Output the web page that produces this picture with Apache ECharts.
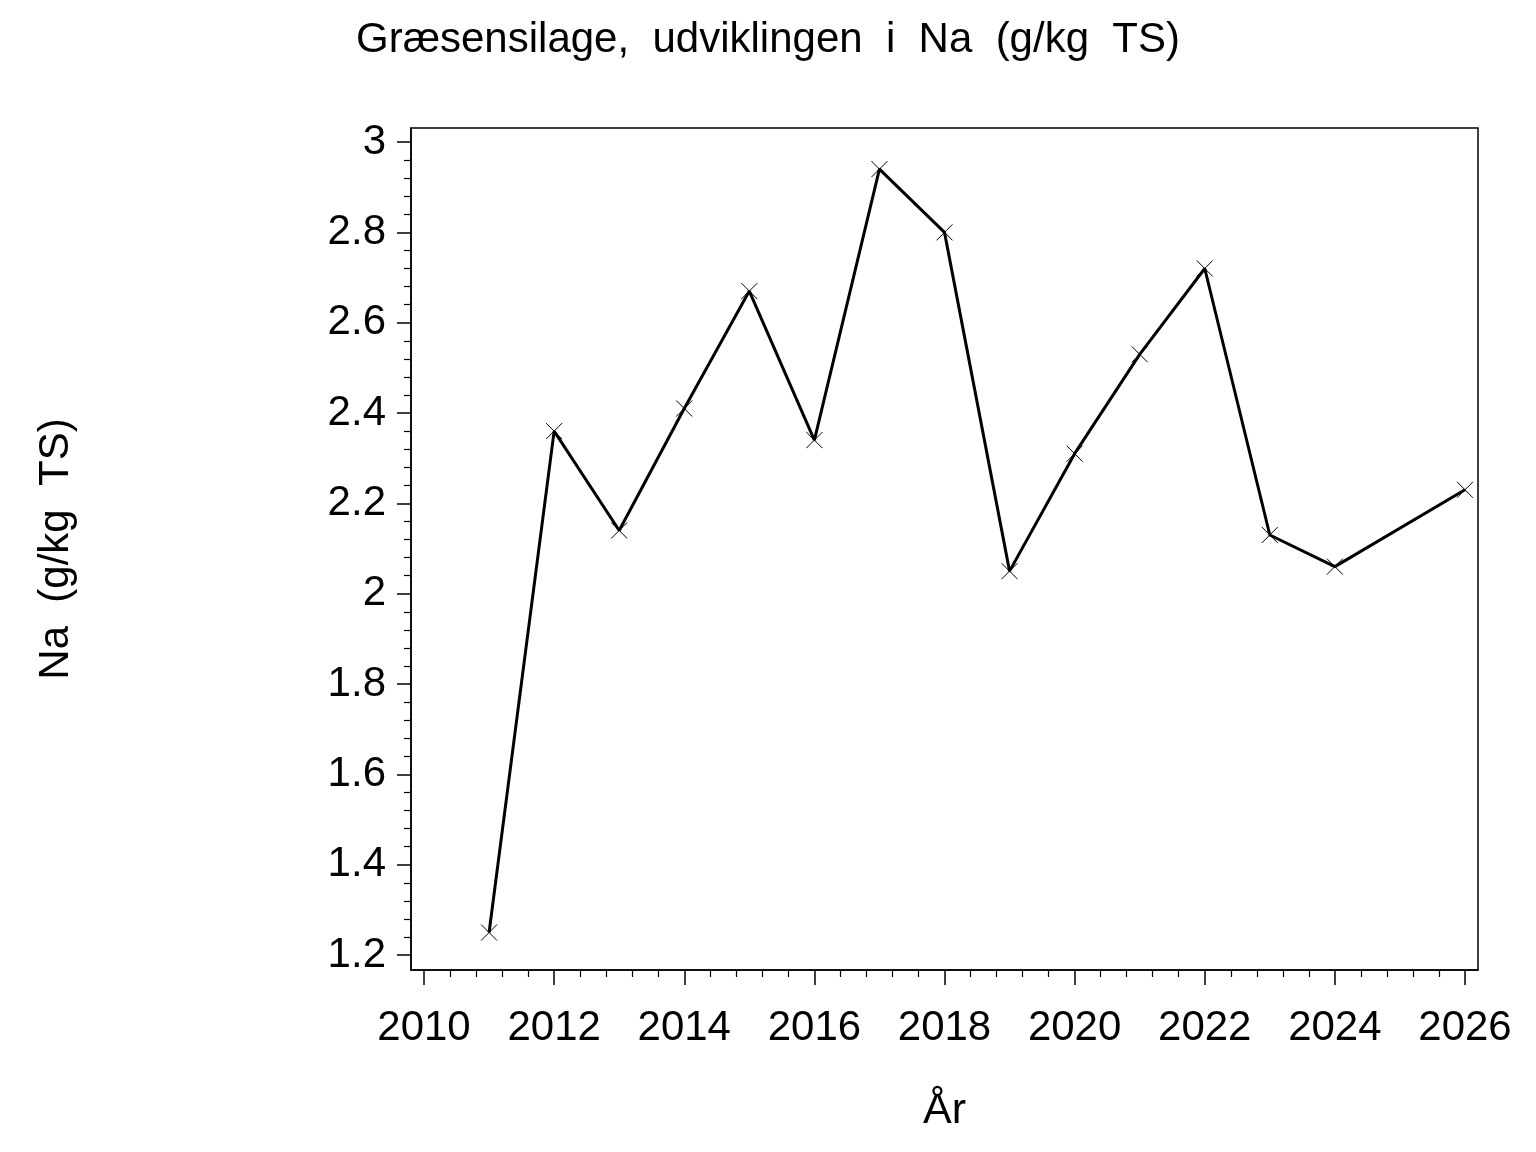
<!DOCTYPE html>
<html>
<head>
<meta charset="utf-8">
<script src="https://cdn.jsdelivr.net/npm/echarts@6/dist/echarts.min.js"></script>
<style>
  html, body { margin: 0; padding: 0; background: #fff; }
  #chart { width: 1536px; height: 1152px; }
</style>
</head>
<body>
<div id="chart"></div>
<script>
// ---- data ----
const years = [2011, 2012, 2013, 2014, 2015, 2016, 2017, 2018, 2019, 2020, 2021, 2022, 2023, 2024, 2026];
const naValues = [1.25, 2.36, 2.14, 2.41, 2.67, 2.34, 2.94, 2.80, 2.05, 2.31, 2.53, 2.72, 2.13, 2.06, 2.23];
const xTickLabels = [2010, 2012, 2014, 2016, 2018, 2020, 2022, 2024, 2026];
const yTickLabels = [1.2, 1.4, 1.6, 1.8, 2, 2.2, 2.4, 2.6, 2.8, 3];

const titleText = 'Græsensilage,  udviklingen  i  Na  (g/kg  TS)';
const xName = 'År';
const yName = 'Na  (g/kg  TS)';

// minor ticks: 4 between each pair of major ticks
function minorsOf(majors) {
  const out = [];
  for (let i = 0; i < majors.length - 1; i++) {
    const a = majors[i], b = majors[i + 1];
    for (let k = 1; k < 5; k++) out.push(Math.round((a + (b - a) * k / 5) * 1000) / 1000);
  }
  return out;
}
const xMinor = minorsOf(xTickLabels);
const yMinor = minorsOf(yTickLabels);

const FONT = '"Liberation Sans", Arial, Helvetica, sans-serif';
const xMin = 2009.8, xMax = 2026.2, yMin = 1.167, yMax = 3.031;

const chart = echarts.init(document.getElementById('chart'), null, { renderer: 'canvas' });
chart.setOption({
  animation: false,
  backgroundColor: '#fff',
  title: {
    text: titleText,
    left: 'center',
    top: 14,
    textStyle: { fontFamily: FONT, fontSize: 42, fontWeight: 'normal', color: '#000' }
  },
  grid: {
    left: 411, top: 128, width: 1067, height: 842,
    show: true, borderColor: '#000', borderWidth: 1.5, backgroundColor: 'transparent'
  },
  xAxis: [
    {
      type: 'value', min: xMin, max: xMax, position: 'bottom',
      name: xName, nameLocation: 'middle', nameGap: 120,
      nameTextStyle: { fontFamily: FONT, fontSize: 43, color: '#000' },
      axisLine: { show: true, lineStyle: { color: '#000', width: 1.5 } },
      axisTick: { show: true, customValues: xTickLabels, length: 15, lineStyle: { color: '#000', width: 1.5 } },
      axisLabel: { customValues: xTickLabels, fontFamily: FONT, fontSize: 42, color: '#000', margin: 37,
                   formatter: v => String(v) },
      splitLine: { show: false }
    },
    {
      type: 'value', min: xMin, max: xMax, position: 'bottom',
      axisLine: { show: false },
      axisTick: { show: true, customValues: xMinor, length: 7, lineStyle: { color: '#000', width: 1.2 } },
      axisLabel: { show: false },
      splitLine: { show: false }
    }
  ],
  yAxis: [
    {
      type: 'value', min: yMin, max: yMax, position: 'left',
      name: yName, nameLocation: 'middle', nameGap: 334, nameRotate: 90,
      nameTextStyle: { fontFamily: FONT, fontSize: 42, color: '#000' },
      axisLine: { show: true, lineStyle: { color: '#000', width: 1.5 } },
      axisTick: { show: true, customValues: yTickLabels, length: 14, lineStyle: { color: '#000', width: 1.5 } },
      axisLabel: { customValues: yTickLabels, fontFamily: FONT, fontSize: 42, color: '#000', margin: 25,
                   formatter: v => String(v) },
      splitLine: { show: false }
    },
    {
      type: 'value', min: yMin, max: yMax, position: 'left',
      axisLine: { show: false },
      axisTick: { show: true, customValues: yMinor, length: 7, lineStyle: { color: '#000', width: 1.2 } },
      axisLabel: { show: false },
      splitLine: { show: false }
    }
  ],
  series: [
    {
      type: 'line',
      xAxisIndex: 0, yAxisIndex: 0,
      data: years.map((y, i) => [y, naValues[i]]),
      symbol: 'path://M0,0L10,10M10,0L0,10',
      symbolSize: 16,
      showAllSymbol: true,
      lineStyle: { color: '#000', width: 3 },
      itemStyle: { color: 'rgba(0,0,0,0)', borderColor: '#000', borderWidth: 1 },
      emphasis: { disabled: true }
    }
  ]
});
</script>
</body>
</html>
